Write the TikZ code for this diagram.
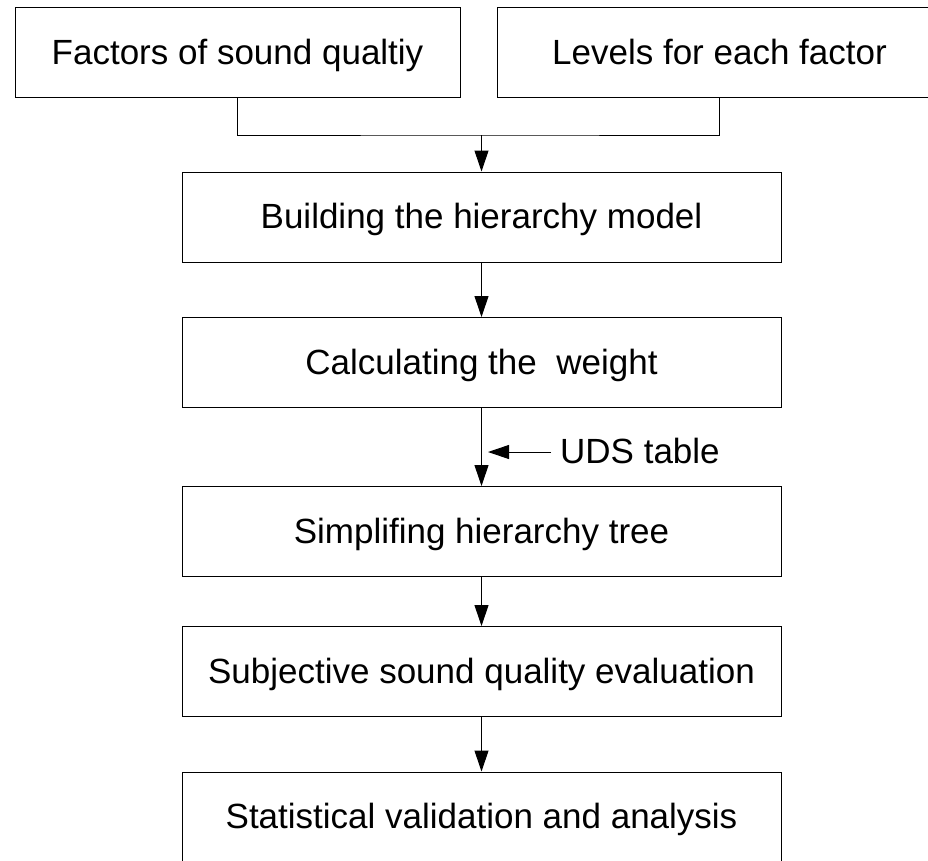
\documentclass[tikz,border=0pt]{standalone}
\usepackage{fontspec}
\setmainfont{Liberation Sans}
\usetikzlibrary{arrows.meta}
\begin{document}
\begin{tikzpicture}[x=1pt,y=-1pt,
  box/.style={draw, line width=1pt, minimum height=90pt, inner sep=0pt, text height=25pt, text depth=2pt, font=\fontsize{35}{42}\selectfont},
  topbox/.style={box, minimum width=445pt},
  midbox/.style={box, minimum width=599pt},
  conn/.style={line width=1pt},
  flow/.style={line width=1pt, -{Triangle[length=21pt,width=14pt]}},
  lbl/.style={font=\fontsize{35}{42}\selectfont, text height=25pt, text depth=2pt, inner ysep=0pt, inner xsep=9pt}
  ]
\useasboundingbox (0,0) rectangle (928,860);
\begin{scope}
\clip (0,0) rectangle (928,860);
\node[topbox] (fac) at (237.5,52.5) {Factors of sound qualtiy};
\node[topbox] (lev) at (719.5,52.5) {Levels for each factor};
\node[midbox] (bld) at (481.5,217) {Building the hierarchy model};
\node[midbox] (calc) at (481.5,362.5) {Calculating the\ \ weight};
\node[midbox] (simp) at (481.5,531.5) {Simplifing hierarchy tree};
\node[midbox] (subj) at (481.5,671.5) {Subjective sound quality evaluation};
\node[midbox] (stat) at (481.5,817) {Statistical validation and analysis};
\coordinate (join) at (481.5,135);
\draw[conn] (fac.south) |- (join) -| (lev.south);
\draw[flow] (join) -- (bld.north);
\draw[flow] (bld.south) -- (calc.north);
\draw[flow] (calc.south) -- (simp.north);
\draw[flow] (simp.south) -- (subj.north);
\draw[flow] (subj.south) -- (stat.north);
\node[lbl, anchor=west] (uds) at (551,452) {UDS table};
\coordinate (udstip) at (488,452);
\draw[flow] (uds.west) -- (udstip);
\end{scope}
\end{tikzpicture}
\end{document}
